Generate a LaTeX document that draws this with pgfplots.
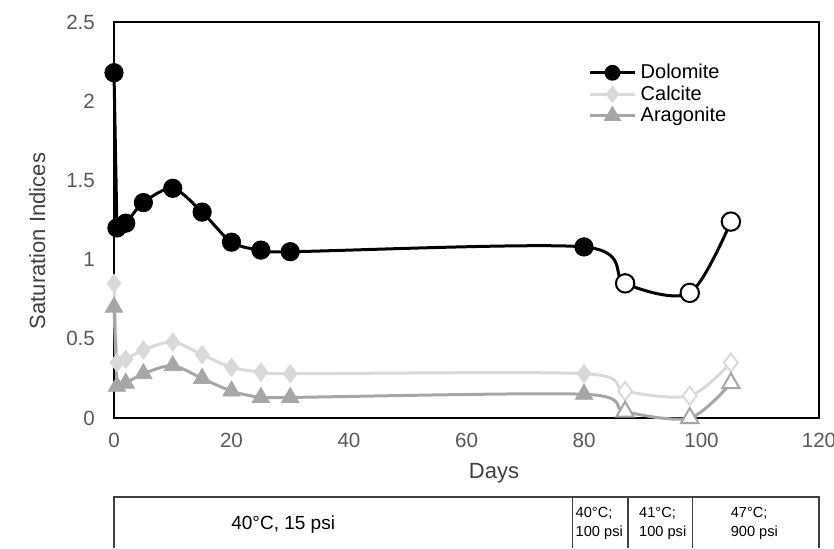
\documentclass[border=0pt]{standalone}
\usepackage{fontspec}
\setmainfont{Liberation Sans}
\usepackage{pgfplots}
\pgfplotsset{compat=1.18}

\definecolor{dolo}{RGB}{0,0,0}
\definecolor{calc}{RGB}{217,217,217}
\definecolor{arag}{RGB}{166,166,166}
\definecolor{tickgray}{RGB}{89,89,89}
\definecolor{labgray}{RGB}{64,64,64}
\definecolor{tabgray}{RGB}{64,64,64}

% Dolomite
\pgfplotstableread{
x y
0 2.18
0.5 1.20
}\doloA
\pgfplotstableread{
x y
0.5 1.20
2 1.23
5 1.36
10 1.45
15 1.30
20 1.11
25 1.06
30 1.05
80 1.08
87 0.85
98 0.79
105 1.24
}\doloB
\pgfplotstableread{
x y
0 2.18
0.5 1.20
2 1.23
5 1.36
10 1.45
15 1.30
20 1.11
25 1.06
30 1.05
80 1.08
}\doloF
\pgfplotstableread{
x y
87 0.85
98 0.79
105 1.24
}\doloO

% Calcite
\pgfplotstableread{
x y
0 0.85
0.5 0.35
}\calcA
\pgfplotstableread{
x y
0.5 0.35
2 0.37
5 0.43
10 0.48
15 0.40
20 0.32
25 0.29
30 0.28
80 0.28
87 0.17
98 0.14
105 0.35
}\calcB
\pgfplotstableread{
x y
0 0.85
0.5 0.35
2 0.37
5 0.43
10 0.48
15 0.40
20 0.32
25 0.29
30 0.28
80 0.28
}\calcF
\pgfplotstableread{
x y
87 0.17
98 0.14
105 0.35
}\calcO

% Aragonite
\pgfplotstableread{
x y
0 0.70
0.5 0.20
}\aragA
\pgfplotstableread{
x y
0.5 0.20
2 0.22
5 0.28
10 0.33
15 0.25
20 0.17
25 0.13
30 0.13
80 0.15
87 0.04
98 0.00
105 0.22
}\aragB
\pgfplotstableread{
x y
0 0.70
0.5 0.20
2 0.22
5 0.28
10 0.33
15 0.25
20 0.17
25 0.13
30 0.13
80 0.15
}\aragF
\pgfplotstableread{
x y
87 0.04
98 0.00
105 0.22
}\aragO

\begin{document}
\begin{tikzpicture}
\useasboundingbox (-57pt,-65pt) rectangle (360pt,209pt);
\begin{axis}[
    at={(0,0)}, anchor=south west,
    width=352.5pt, height=198pt,
    scale only axis,
    xmin=0, xmax=120,
    ymin=0, ymax=2.5,
    xtick={0,20,...,120},
    ytick={0,0.5,1,1.5,2,2.5},
    major tick length=0pt,
    axis line style={black, line width=1pt},
    tick label style={font=\fontsize{10.3}{12}\selectfont, text=tickgray},
    /pgf/number format/assume math mode=true,
    /pgf/number format/fixed,
    yticklabel style={xshift=-6pt},
    xticklabel style={yshift=-4pt},
    xlabel={Days},
    ylabel={Saturation Indices},
    label style={font=\fontsize{11}{13}\selectfont, text=labgray},
    xlabel style={at={(rel axis cs:0.539,-0.139)}, anchor=center},
    ylabel style={at={(rel axis cs:-0.109,0.447)}, anchor=center, rotate=0},
    clip=false,
    legend style={at={(rel axis cs:0.672,0.905)}, anchor=north west,
        draw=none, fill=none, font=\fontsize{10}{12}\selectfont,
        row sep=-2pt, inner sep=0pt},
    legend cell align=left,
    legend image code/.code={
        \draw[mark repeat=2, mark phase=2] plot coordinates {(0cm,0cm) (0.4cm,0cm) (0.8cm,0cm)};
    },
]
\addlegendimage{dolo, line width=1.5pt, mark=*, mark size=3.2pt}
\addlegendentry{Dolomite}
\addlegendimage{calc, line width=1.5pt, mark=diamond*, mark size=3.2pt}
\addlegendentry{Calcite}
\addlegendimage{arag, line width=1.5pt, mark=triangle*, mark size=3.6pt}
\addlegendentry{Aragonite}

% Dolomite
\addplot[dolo, line width=1.5pt, no marks, forget plot] table {\doloA};
\addplot[dolo, line width=1.5pt, no marks, smooth, tension=0.5, forget plot] table {\doloB};
\addplot[only marks, mark=*, mark size=4.6pt, mark options={draw=dolo, fill=dolo}, forget plot] table {\doloF};
\addplot[only marks, mark=*, mark size=4.6pt, mark options={draw=dolo, fill=white, line width=1pt}, forget plot] table {\doloO};

% Calcite
\addplot[calc, line width=1.5pt, no marks, forget plot] table {\calcA};
\addplot[calc, line width=1.5pt, no marks, smooth, tension=0.5, forget plot] table {\calcB};
\addplot[only marks, mark=diamond*, mark size=4.6pt, mark options={draw=calc, fill=calc}, forget plot] table {\calcF};
\addplot[only marks, mark=diamond*, mark size=4.6pt, mark options={draw=calc, fill=white, line width=1pt}, forget plot] table {\calcO};

% Aragonite
\addplot[arag, line width=1.5pt, no marks, forget plot] table {\aragA};
\addplot[arag, line width=1.5pt, no marks, smooth, tension=0.5, forget plot] table {\aragB};
\addplot[only marks, mark=triangle*, mark size=5pt, mark options={draw=arag, fill=arag}, forget plot] table {\aragF};
\addplot[only marks, mark=triangle*, mark size=5pt, mark options={draw=arag, fill=white, line width=1pt}, forget plot] table {\aragO};

% conditions table below the chart
\draw[tabgray, line width=0.8pt] (axis cs:0,-0.8207) -- (axis cs:0,-0.4987) -- (axis cs:120,-0.4987) -- (axis cs:120,-0.8207);
\draw[tabgray, line width=0.6pt] (axis cs:78,-0.4987) -- (axis cs:78,-0.8207);
\draw[tabgray, line width=0.6pt] (axis cs:87.5,-0.4987) -- (axis cs:87.5,-0.8207);
\draw[tabgray, line width=0.6pt] (axis cs:98.5,-0.4987) -- (axis cs:98.5,-0.8207);
\node[font=\fontsize{9.5}{11}\selectfont, text=black] at (axis cs:28.8,-0.675) {40°C, 15 psi};
\node[font=\fontsize{7.3}{9.5}\selectfont, align=left, inner sep=0pt] at (axis cs:82.6,-0.663) {40°C;\\100 psi};
\node[font=\fontsize{7.3}{9.5}\selectfont, align=left, inner sep=0pt] at (axis cs:93.4,-0.663) {41°C;\\100 psi};
\node[font=\fontsize{7.3}{9.5}\selectfont, align=left, inner sep=0pt] at (axis cs:109,-0.663) {47°C;\\900 psi};
\end{axis}
\end{tikzpicture}
\end{document}
